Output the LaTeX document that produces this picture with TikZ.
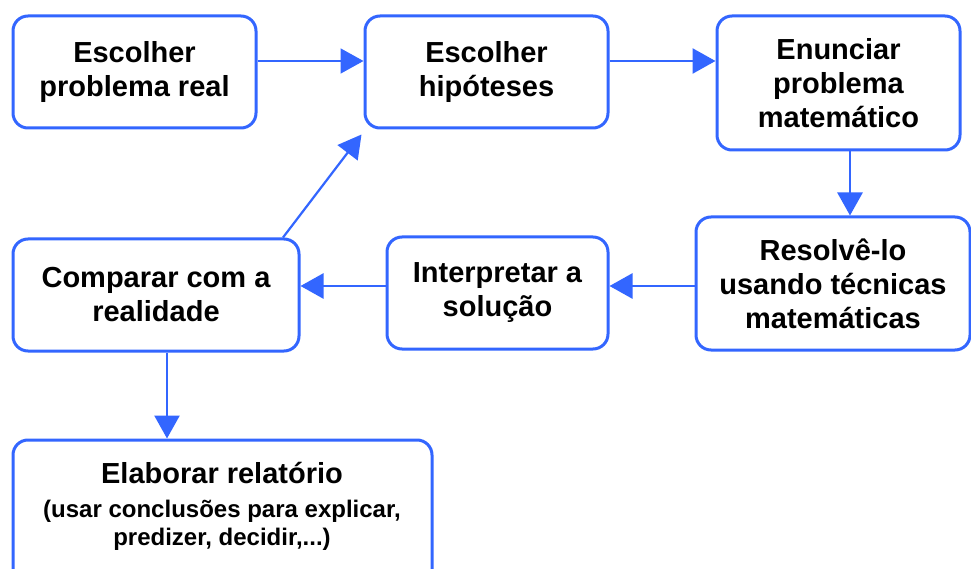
\documentclass[tikz,border=0pt]{standalone}
\usepackage{fontspec}
\setmainfont{Liberation Sans}
\usetikzlibrary{arrows.meta,calc}
\definecolor{bl}{RGB}{51,102,255}
\tikzset{
  box/.style={draw=bl, line width=3pt, rounded corners=15pt, rectangle, inner sep=0pt,
    align=center, font=\fontsize{29}{34}\selectfont\bfseries, text=black},
  arr/.style={draw=bl, line width=2.6pt, -{Triangle[length=23pt,width=25pt]}},
  small/.style={font=\fontsize{24}{28}\selectfont\bfseries, inner sep=0pt, anchor=base},
  title/.style={font=\fontsize{29}{34}\selectfont\bfseries, inner sep=0pt, anchor=base}
}
\begin{document}
\begin{tikzpicture}[x=1pt,y=-1pt]
\useasboundingbox (0,0) rectangle (971,569);
\fill[white] (0,0) rectangle (971,569);
\node[box, minimum width=243pt, minimum height=112pt] (A) at (134.5,72) {Escolher\\problema real};
\node[box, minimum width=243pt, minimum height=112pt] (B) at (486.5,72) {Escolher\\hipóteses};
\node[box, minimum width=243pt, minimum height=134pt] (C) at (838.5,83) {Enunciar\\problema\\matemático};
\node[box, minimum width=274pt, minimum height=133pt] (D) at (833,283.5) {Resolvê-lo\\usando técnicas\\matemáticas};
\node[box, minimum width=221pt, minimum height=112pt] (E) at (497.5,293) {Interpretar a\\solução};
\node[box, minimum width=286pt, minimum height=112pt] (F) at (156,295) {Comparar com a\\realidade};
\node[box, minimum width=419pt, minimum height=160pt] (G) at (222.5,520) {};
\node[title] (G1) at (222,483) {Elaborar relatório};
\node[small] (G2) at (222,517) {(usar conclusões para explicar,};
\node[small] (G3) at (222,545) {predizer, decidir,...)};
\draw[arr, line width=1.8pt] ([yshift=11pt]A.east) -- ([yshift=11pt]B.west);
\draw[arr] ([yshift=11pt]B.east) -- ([yshift=11pt]B.east -| C.west);
\draw[arr] ([xshift=11.5pt]C.south) -- ([xshift=11.5pt]C.south |- D.north);
\draw[arr] ([yshift=-2.5pt]D.west) -- ([yshift=-2.5pt]D.west -| E.east);
\draw[arr] ([yshift=7pt]E.west) -- ([yshift=7pt]E.west -| F.east);
\draw[arr] ([xshift=11pt]F.south) -- ([xshift=11pt]F.south |- G.north);
\draw[arr, line width=2.2pt] ([xshift=127pt]F.north) -- ([xshift=-2pt,yshift=-5pt]B.south west);
\end{tikzpicture}
\end{document}
